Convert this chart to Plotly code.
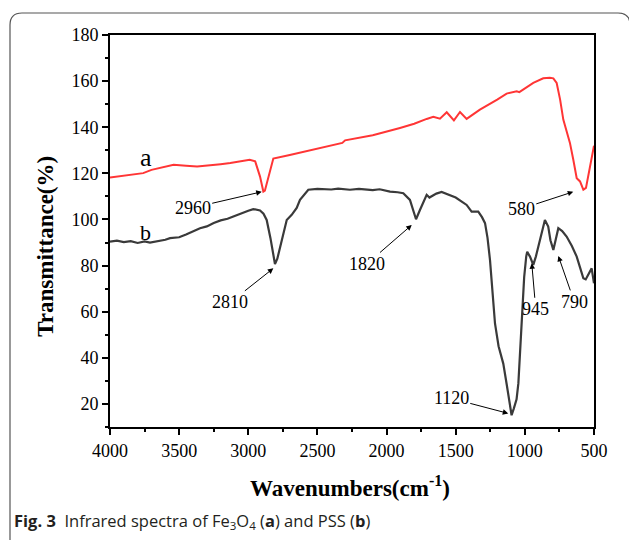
import plotly.graph_objects as go

# Curve a (Fe3O4)
wn_a = [4000, 3900, 3760, 3700, 3600, 3540, 3450, 3370, 3200, 3130, 2990, 2960, 2950, 2915, 2891, 2880,
        2855, 2838, 2819, 2700, 2500, 2320, 2300, 2100, 1903, 1800, 1710, 1662, 1614, 1565, 1513, 1469,
        1421, 1325, 1200, 1132, 1059, 1040, 939, 867, 820, 794, 770, 745, 722, 700, 674, 650, 625, 601,
        577, 558, 530, 500]
tr_a = [118.2, 119.0, 120.1, 121.5, 123.0, 123.7, 123.3, 123.0, 124.0, 124.5, 125.9, 125.6, 125.2, 118.6, 112.1, 112.5,
        118.6, 121.5, 126.4, 128.0, 130.8, 133.2, 134.3, 136.5, 139.7, 141.5, 143.6, 144.5, 143.7, 146.5, 143.0, 146.6,
        143.6, 147.6, 152.0, 154.6, 155.6, 155.2, 159.2, 161.2, 161.5, 161.2, 159.2, 152.0, 143.3, 139.0, 133.2, 126.0, 117.9, 116.5,
        112.9, 113.7, 122.0, 132.0]

# Curve b (PSS)
wn_b = [4000, 3950, 3900, 3850, 3800, 3750, 3711, 3650, 3600, 3566, 3500, 3450, 3400, 3349, 3300, 3250,
        3200, 3150, 3108, 3050, 3000, 2964, 2915, 2890, 2867, 2840,
        2820, 2807, 2790, 2758, 2722, 2686, 2650, 2626, 2566, 2500, 2400, 2350, 2265, 2200, 2100, 2050,
        1975, 1920, 1879, 1831, 1810,
        1787, 1758, 1730, 1710, 1690, 1662, 1640, 1602, 1500, 1421, 1385, 1337, 1310, 1288, 1270, 1252, 1235, 1216,
        1190, 1156, 1130, 1110, 1096, 1080, 1060, 1047, 1035, 1023, 1005, 990, 983, 963, 939, 920,
        903, 880, 855, 831, 815, 794, 775, 758, 730, 698, 660, 625, 600, 577, 560, 541, 517, 500]
tr_b = [90.4, 90.8, 90.2, 90.6, 89.8, 90.5, 90.0, 90.5, 91.2, 91.9, 92.3, 93.5, 94.8, 96.2, 97.0, 98.5,
        99.6, 100.3, 101.3, 102.8, 103.8, 104.5, 103.9, 102.5, 99.8, 92.0,
        84.0, 80.7, 83.0, 91.1, 99.8, 102.0, 105.0, 108.5, 112.9, 113.3, 113.0, 113.4, 112.9, 113.3, 112.7, 113.1,
        112.1, 111.8, 111.4, 108.5, 104.0,
        100.1, 104.2, 108.0, 110.7, 109.5, 110.6, 111.2, 111.9, 109.5, 106.3, 103.4, 103.4, 101.0, 98.4, 92.0, 82.4, 68.0, 54.9,
        45.0, 37.5, 28.0, 19.0, 15.1, 18.0, 22.0, 28.9, 42.0, 57.8, 75.0, 84.0, 86.0, 83.9, 80.3, 84.0,
        88.2, 94.0, 99.8, 96.9, 91.0, 86.8, 92.0, 96.2, 95.0, 92.6, 88.5, 83.9, 79.0, 74.5, 74.0, 75.9, 78.8, 72.3]

# Peak annotations: label, arrow head (wavenumber, transmittance), text offset (px)
peak_labels = ["2960", "2810", "1820", "580", "945", "790", "1120"]
peak_x = [2903, 2819, 1818, 650, 950, 758, 1120]
peak_y = [112.0, 78.8, 97.6, 112.0, 81.0, 84.2, 15.9]
peak_ax = [-69, -43, -45, -52, 4, 16, -57]
peak_ay = [16, 34, 39, 17, 46, 46, -15]

x_ticks = [4000, 3500, 3000, 2500, 2000, 1500, 1000, 500]
y_ticks = [20, 40, 60, 80, 100, 120, 140, 160, 180]

SERIF = "Liberation Serif, Times New Roman, serif"

fig = go.Figure()
fig.add_trace(go.Scatter(x=wn_a, y=tr_a, mode="lines", line=dict(color="#ff3535", width=2), showlegend=False))
fig.add_trace(go.Scatter(x=wn_b, y=tr_b, mode="lines", line=dict(color="#3a3a3a", width=2.2), showlegend=False))

for lab, hx, hy, ax, ay in zip(peak_labels, peak_x, peak_y, peak_ax, peak_ay):
    fig.add_annotation(x=hx, y=hy, text=lab, showarrow=True, ax=ax, ay=ay,
                       arrowhead=2, arrowsize=1.1, arrowwidth=1, arrowcolor="black",
                       font=dict(family=SERIF, size=18, color="black"))

fig.add_annotation(x=3740, y=127.0, text="a", showarrow=False, xanchor="center", yanchor="middle",
                   font=dict(family=SERIF, size=26, color="black"))
fig.add_annotation(x=3745, y=94.5, text="b", showarrow=False, xanchor="center", yanchor="middle",
                   font=dict(family=SERIF, size=22, color="black"))

# axis titles
fig.add_annotation(xref="paper", yref="paper", x=0.496, y=-0.153, xanchor="center", yanchor="middle",
                   text="<b>Wavenumbers(cm<sup>-1</sup>)</b>",
                   showarrow=False, font=dict(family=SERIF, size=23, color="black"))
fig.add_annotation(xref="paper", yref="paper", x=-0.132, y=0.46, xanchor="center", yanchor="middle",
                   text="<b>Transmittance(%)</b>", textangle=-90,
                   showarrow=False, font=dict(family=SERIF, size=23, color="black"))

# caption
fig.add_annotation(xref="paper", yref="paper", x=-0.2025, y=-0.2398, xanchor="left", yanchor="middle",
                   text="<b>Fig. 3</b>  Infrared spectra of Fe<sub>3</sub>O<sub>4</sub> (<b>a</b>) and PSS (<b>b</b>)",
                   showarrow=False, font=dict(family="Open Sans, sans-serif", size=16.5, color="#231f20"))

# rounded frame around figure (paper coords computed from pixels)
L, T, W, H = 110, 35, 484, 392
def px(xp):
    return (xp - L) / W
def py(yp):
    return (T + H - yp) / H
r = 12
path = (f"M {px(10)},{py(548)} L {px(10)},{py(13 + r)} Q {px(10)},{py(13)} {px(10 + r)},{py(13)} "
        f"L {px(630 - r)},{py(13)} Q {px(630)},{py(13)} {px(630)},{py(13 + r)} L {px(630)},{py(548)}")
fig.add_shape(type="path", xref="paper", yref="paper", path=path,
              line=dict(color="#555555", width=1.2))

fig.update_xaxes(range=[4000, 500], tickvals=x_ticks, ticks="outside", ticklen=6, tickwidth=2,
                 tickcolor="black", showline=True, linewidth=2, linecolor="black", mirror=True,
                 showgrid=False, zeroline=False,
                 minor=dict(ticks="outside", ticklen=3, tickwidth=2, tickcolor="black", dtick=250, tick0=0, showgrid=False),
                 tickfont=dict(family=SERIF, size=18, color="black"))
fig.update_yaxes(range=[10, 180], tickvals=y_ticks, ticks="outside", ticklen=6, tickwidth=2,
                 tickcolor="black", showline=True, linewidth=2, linecolor="black", mirror=True,
                 showgrid=False, zeroline=False,
                 minor=dict(ticks="outside", ticklen=3, tickwidth=2, tickcolor="black", dtick=10, tick0=0, showgrid=False),
                 tickfont=dict(family=SERIF, size=18, color="black"))

fig.update_layout(width=629, height=540, margin=dict(l=L, r=629 - L - W, t=T, b=540 - T - H),
                  plot_bgcolor="white", paper_bgcolor="white", showlegend=False)

fig.write_html("out.html")
